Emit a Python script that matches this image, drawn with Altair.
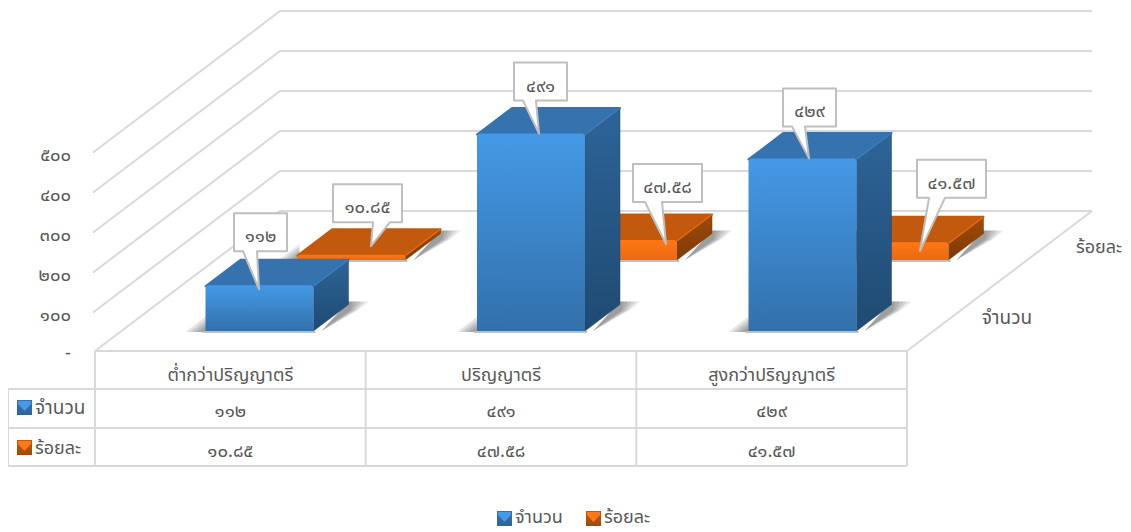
import altair as alt
import pandas as pd

# ---- values
categories = ["ต่ำกว่าปริญญาตรี", "ปริญญาตรี", "สูงกว่าปริญญาตรี"]
series_names = ["จำนวน", "ร้อยละ"]
counts = [112, 491, 429]
percents = [10.85, 47.58, 41.57]
count_labels = ["๑๑๒", "๔๙๑", "๔๒๙"]
percent_labels = ["๑๐.๘๕", "๔๗.๕๘", "๔๑.๕๗"]
tick_values = [0, 100, 200, 300, 400, 500]
tick_labels = ["-", "๑๐๐", "๒๐๐", "๓๐๐", "๔๐๐", "๕๐๐"]

# ---- projection of the 3-D scene on the page
FONT = "Noto Sans Thai, Noto Sans, DejaVu Sans, sans-serif"
TXT = "#595959"
GRID = "#D9D9D9"
PX = 0.4
NUM = 18.5
LAB = 18
FLOOR_L, FLOOR_R, FLOOR_Y = 95, 907, 351
WALL_DX, WALL_DY = 185, -140
BLUE_X0, STEP, BLUE_BASE = 259.5, 271.5, 331
ORANGE_SHIFT, ORANGE_BASE = 92, 260
BAR_W, BAR_DX, BAR_DY = 108, 35, -26.5

X = alt.X("x:Q", scale=alt.Scale(domain=[8, 1123], nice=False, zero=False), axis=None)
Y = alt.Y("y:Q", scale=alt.Scale(domain=[532, 8], nice=False, zero=False), axis=None)
layers = []


def grad(c1, c2, horizontal=False):
    return alt.Gradient(gradient="linear", x1=0, y1=0, x2=1 if horizontal else 0, y2=0 if horizontal else 1,
                        stops=[alt.GradientStop(offset=0, color=c1), alt.GradientStop(offset=1, color=c2)])


def poly(points, fill, stroke=None, sw=0):
    d = pd.DataFrame({"x": [p[0] for p in points], "y": [p[1] for p in points], "i": list(range(len(points)))})
    kw = dict(interpolate="linear-closed", fill=fill, strokeWidth=sw, strokeJoin="round")
    kw["stroke"] = stroke if stroke else "transparent"
    layers.append(alt.Chart(d).mark_line(**kw).encode(x=X, y=Y, order="i:Q"))


def path(points, color=GRID, sw=2):
    d = pd.DataFrame({"x": [p[0] for p in points], "y": [p[1] for p in points], "i": list(range(len(points)))})
    layers.append(alt.Chart(d).mark_line(color=color, strokeWidth=sw).encode(x=X, y=Y, order="i:Q"))


def box(x0, x1, y0, y1, fill, **kw):
    d = pd.DataFrame({"x": [x0], "x2": [x1], "y": [y0], "y2": [y1]})
    layers.append(alt.Chart(d).mark_rect(fill=fill, **kw).encode(x=X, x2="x2:Q", y=Y, y2="y2:Q"))


def label(x, y, s, size=15, align="center", weight=400):
    d = pd.DataFrame({"x": [x], "y": [y], "t": [s]})
    layers.append(alt.Chart(d).mark_text(font=FONT, fontSize=size, color=TXT, align=align, baseline="middle",
                                         fontWeight=weight).encode(x=X, y=Y, text="t:N"))


def bar(x0, base, value, c):
    h = value * PX
    x1 = x0 + BAR_W
    # soft shadows on the floor, built from stacked translucent shapes
    for k in [20, 16, 12, 8, 4]:
        poly([(x1 + BAR_DX, base + BAR_DY - 3), (x1 + BAR_DX + k, base + BAR_DY - 3),
              (x1 + BAR_DX + k * 0.45, base + BAR_DY + 6), (x1 + 8, base)], "rgba(0,0,0,0.09)")
        poly([(x0 - k, base + 1), (x0 + 2, base - k * 0.8), (x0 + 2, base + 1)], "rgba(0,0,0,0.1)")
    path([(x0 - 3, base + 1), (x1 + 2, base + 1)], "#BFBFBF", 2)
    # faces
    poly([(x0, base - h), (x1, base - h), (x1 + BAR_DX, base - h + BAR_DY), (x0 + BAR_DX, base - h + BAR_DY)],
         c["top"], c["top"], 2)
    poly([(x1, base - h), (x1 + BAR_DX, base - h + BAR_DY), (x1 + BAR_DX, base + BAR_DY), (x1, base)],
         grad(c["side1"], c["side2"]), c["side2"], 0.5)
    path([(x1, base - h), (x1 + BAR_DX, base - h + BAR_DY)], c["edge"], 1.5)
    box(x0, x1, base - h - 1, base, grad(c["front1"], c["front2"]), cornerRadiusTopLeft=3, cornerRadiusTopRight=3)


BLUE = dict(top="#3673AE", side1="#2D6498", side2="#1F4A72", edge="#3C7DBB", front1="#4599E6", front2="#3270AB")
ORANGE = dict(top="#C2590C", side1="#A04A08", side2="#7E3A06", edge="#E26A10", front1="#FF7716", front2="#EA6A10")

# ---- walls and floor
for v in tick_values:
    y = FLOOR_Y - v * PX
    start = (FLOOR_L - (2 if v else 0), y + (1.5 if v else 0))
    path([start, (FLOOR_L + WALL_DX, y + WALL_DY), (1092, y + WALL_DY)])
path([(FLOOR_R, FLOOR_Y), (FLOOR_R + WALL_DX, FLOOR_Y + WALL_DY)])

# ---- bars: back row first
for i, v in enumerate(percents):
    bar(BLUE_X0 + STEP * i - BAR_W / 2 + ORANGE_SHIFT, ORANGE_BASE, v, ORANGE)
for i, v in enumerate(counts):
    bar(BLUE_X0 + STEP * i - BAR_W / 2, BLUE_BASE, v, BLUE)

# ---- table lines
for y in [389, 428, 466]:
    path([(8, y), (FLOOR_R, y)])
path([(FLOOR_L, FLOOR_Y), (FLOOR_R, FLOOR_Y)])
path([(8, 389), (8, 466)])
for i in range(4):
    xx = FLOOR_L + (FLOOR_R - FLOOR_L) * i / 3
    path([(xx, FLOOR_Y), (xx, 466)])

# ---- callouts, tip given relative to the top of the bar it points at
W1, W2, H = 53, 69, 38


def callout(tipx, tipy, bx, by, w, t0, t1, s):
    pts = [(bx, by), (bx + w, by), (bx + w, by + H), (t1, by + H), (tipx, tipy), (t0, by + H), (bx, by + H)]
    poly(pts, "#FFFFFF", "#BFBFBF", 2)
    label(bx + w / 2, by + H / 2 + 4, s, NUM)


for i, (dtx, dty, dbx, dby, w, t0, t1) in enumerate([
    (-0.5, 3, -25, -76, W1, -16, -2),
    (8, -1, -25, -71, W1, -16, -3),
    (6.5, -1, -26, -70, W1, -17, -4),
]):
    tx = BLUE_X0 + STEP * i + dtx
    ty = BLUE_BASE - counts[i] * PX + dty
    callout(tx, ty, tx + dbx, ty + dby, w, tx + t0, tx + t1, count_labels[i])
for i, (dtx, dty, dbx, dby, w, t0, t1) in enumerate([
    (19.5, -9.5, -38, -62, W2, 2, 19),
    (43, 3, -33, -80, W2, -21, -4),
    (25.5, 7.5, -3, -91, W2, 9, 25),
]):
    tx = BLUE_X0 + STEP * i + ORANGE_SHIFT + dtx
    ty = ORANGE_BASE - percents[i] * PX + dty
    callout(tx, ty, tx + dbx, ty + dby, w, tx + t0, tx + t1, percent_labels[i])

# ---- axis labels
for v, s in zip(tick_values, tick_labels):
    label(71, FLOOR_Y + (4 if v else 2) - v * PX, s, NUM, "right")
label(1007, 318, series_names[0], LAB + 1)
label(1099, 248, series_names[1], LAB)

# ---- table text
for i, c in enumerate(categories):
    cx = FLOOR_L + (FLOOR_R - FLOOR_L) * (i + 0.5) / 3
    label(cx, 376, c, LAB)
    label(cx, 411, count_labels[i], NUM)
    label(cx, 451, percent_labels[i], NUM)


def icon(x, y, c):
    box(x, x + 15, y, y + 15, grad(c["top"], c["side1"]))
    poly([(x + 1, y + 1), (x + 14, y + 1), (x + 14, y + 4), (x + 7.5, y + 11), (x + 1, y + 4)], c["front1"])


icon(17, 400, BLUE)
icon(17, 440, ORANGE)
label(35, 408, series_names[0], LAB + 1, "left")
label(35, 449, series_names[1], LAB, "left")

# ---- legend
icon(497, 511, BLUE)
label(515, 518, series_names[0], LAB, "left")
icon(586, 511, ORANGE)
label(604, 518, series_names[1], LAB, "left")

chart = alt.layer(*layers).properties(width=1115, height=524, padding=0, autosize="none", background="#FFFFFF"
                                      ).configure_view(stroke=None)
chart.save("out.html", embed_options={"renderer": "svg", "actions": False})
